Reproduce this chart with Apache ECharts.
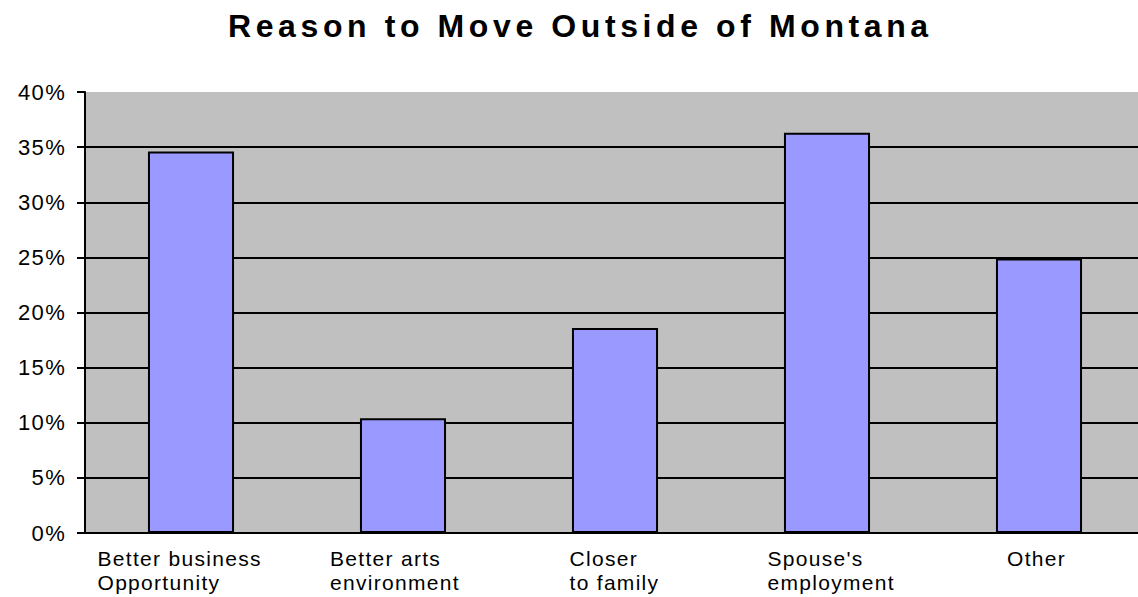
<!doctype html>
<html>
    <head>
        <meta charset="utf-8">
        <style>
            html, body { margin: 0; padding: 0; background: #fff; }
            #main { width: 1138px; height: 597px; }
            #main text { letter-spacing: 1.3px; }
        </style>
    </head>
    <body>
        <div id="main"></div>
        <script src="https://cdn.jsdelivr.net/npm/echarts@6/dist/echarts.min.js"></script>
        <script>
            var titleText = 'Reason to Move Outside of Montana';
            var categories = ['Better business\nOpportunity', 'Better arts\nenvironment', 'Closer\nto family', "Spouse's\nemployment", 'Other'];
            var values = [34.6, 10.4, 18.6, 36.3, 24.9];
            var yMin = 0, yMax = 40, yStep = 5;

            var font = "'Liberation Sans', Arial, sans-serif";
            // width of each label block (lines left aligned) and a small nudge like the original
            var labelWidths = [165, 134, 89, 129, 58];
            var labelShift = [-11, -6, -1, 5, -3];
            var rich = {};
            labelWidths.forEach(function (w, i) {
                var s = labelShift[i];
                rich['c' + i] = {
                    width: w, align: 'left', fontSize: 21, lineHeight: 24,
                    color: '#000', fontFamily: font,
                    padding: [0, s < 0 ? -2 * s : 0, 0, s > 0 ? 2 * s : 0]
                };
            });

            var chart = echarts.init(document.getElementById('main'), null, { renderer: 'svg' });

            chart.setOption({
                animation: false,
                backgroundColor: '#fff',
                title: {
                    text: titleText,
                    left: 223,
                    top: 5,
                    textStyle: { fontSize: 32, fontWeight: 'bold', color: '#000', fontFamily: font }
                },
                grid: {
                    left: 85, right: -7, top: 92, bottom: 64,
                    show: true, backgroundColor: '#c0c0c0', borderWidth: 0,
                    outerBoundsMode: 'none'
                },
                xAxis: {
                    type: 'category',
                    data: categories,
                    axisLine: { lineStyle: { color: '#000', width: 2 } },
                    axisTick: { length: 7, lineStyle: { color: '#000', width: 2 } },
                    axisLabel: {
                        margin: 13,
                        interval: 0,
                        formatter: function (v, i) {
                            return v.split('\n').map(function (s) { return '{c' + i + '|' + s + '}'; }).join('\n');
                        },
                        rich: rich
                    }
                },
                yAxis: {
                    type: 'value',
                    min: yMin, max: yMax, interval: yStep,
                    axisLine: { show: true, lineStyle: { color: '#000', width: 2 } },
                    axisTick: { show: true, length: 8, lineStyle: { color: '#000', width: 2 } },
                    axisLabel: {
                        formatter: '{value}%', margin: 19,
                        fontSize: 22, color: '#000', fontFamily: font
                    },
                    splitLine: { showMaxLine: false, lineStyle: { color: '#000', width: 2 } }
                },
                series: [{
                    type: 'bar',
                    data: values,
                    barWidth: '40.6%',
                    itemStyle: { color: '#9999ff', borderColor: '#000', borderWidth: 2 }
                }]
            });

            function spaceTitle() {
                document.querySelectorAll('#main text').forEach(function (t) {
                    if (t.textContent === titleText) t.style.letterSpacing = '4.6px';
                });
            }
            spaceTitle();
            chart.on('finished', spaceTitle);
            setTimeout(spaceTitle, 0);
        </script>
    </body>
</html>
